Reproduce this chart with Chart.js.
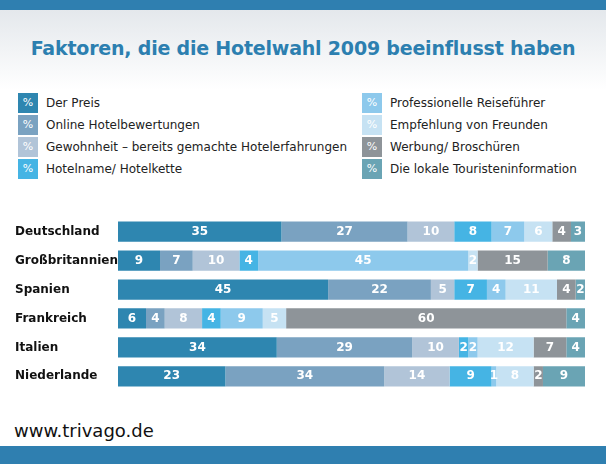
<!DOCTYPE html>
<html><head><meta charset="utf-8">
<script src="https://cdn.jsdelivr.net/npm/chart.js@4"></script>
<style>
body{margin:0;width:606px;height:464px;position:relative;overflow:hidden;background:#fff;font-family:"DejaVu Sans",Verdana,sans-serif}
#top{position:absolute;left:0;top:0;width:606px;height:10px;background:#2f7fb0}
#bg{position:absolute;left:0;top:10px;width:606px;height:80px;background:linear-gradient(#e4e8ec,#fff)}
h1{position:absolute;left:0;width:606px;top:37px;margin:0;text-align:center;font-size:19px;color:#2c7fb0;font-weight:bold;letter-spacing:-0.2px}
.leg{position:absolute;font-size:12px;color:#222}
.leg div{height:22px;display:flex;align-items:center}
.leg span{display:inline-block;width:20px;height:20px;color:#fff;font-size:11px;text-align:center;line-height:20px;margin-right:8px}
#foot{position:absolute;left:14px;top:420px;font-size:18px;color:#111}
#bot{position:absolute;left:0;top:446px;width:606px;height:18px;background:#2f7fb0}
#wrap{position:absolute;left:0;top:206px;width:600px;height:196px}
</style></head><body>
<div id="top"></div><div id="bg"></div>
<h1>Faktoren, die die Hotelwahl 2009 beeinflusst haben</h1>
<div class="leg" id="l1" style="left:18px;top:92px"></div>
<div class="leg" id="l2" style="left:362px;top:92px"></div>
<div id="wrap"><canvas id="c"></canvas></div>
<div id="foot">www.trivago.de</div>
<div id="bot"></div>
<script>
let countries = ["Deutschland", "Großbritannien", "Spanien", "Frankreich", "Italien", "Niederlande"];
let factors = ["Der Preis", "Online Hotelbewertungen", "Gewohnheit – bereits gemachte Hotelerfahrungen", "Hotelname/ Hotelkette",
  "Professionelle Reiseführer", "Empfehlung von Freunden", "Werbung/ Broschüren", "Die lokale Touristeninformation"];
let preis = [35, 9, 45, 6, 34, 23];
let online = [27, 7, 22, 4, 29, 34];
let gewohnheit = [10, 10, 5, 8, 10, 14];
let hotelname = [8, 4, 7, 4, 2, 9];
let reisefuehrer = [7, 45, 4, 9, 2, 1];
let freunde = [6, 2, 11, 5, 12, 8];
let werbung = [4, 15, 4, 60, 7, 2];
let touristinfo = [3, 8, 2, 4, 4, 9];
let colors = ["#2e86b0", "#7aa2c1", "#b1c4d8", "#45b4e4", "#8dc9ec", "#c6e2f3", "#8e9499", "#6aa4b4"];

let series = [preis, online, gewohnheit, hotelname, reisefuehrer, freunde, werbung, touristinfo];

// LEGEND
factors.forEach((f, i) => {
  let d = document.createElement("div");
  d.innerHTML = `<span style="background:${colors[i]}">%</span>${f}`;
  document.getElementById(i < 4 ? "l1" : "l2").appendChild(d);
});

// VALUE LABELS
let labelsPlugin = {
  id: "vals",
  afterDatasetsDraw(chart) {
    let ctx = chart.ctx;
    ctx.save();
    ctx.font = "bold 12px 'DejaVu Sans'";
    ctx.fillStyle = "#fff";
    ctx.textAlign = "center";
    ctx.textBaseline = "middle";
    chart.data.datasets.forEach((ds, i) => {
      chart.getDatasetMeta(i).data.forEach((bar, j) => {
        ctx.fillText(ds.data[j], (bar.x + bar.base) / 2, bar.y);
      });
    });
    ctx.restore();
  }
};

new Chart(document.getElementById("c"), {
  type: "bar",
  data: {
    labels: countries,
    datasets: series.map((s, i) => ({ label: factors[i], data: s, backgroundColor: colors[i], barPercentage: 0.7, categoryPercentage: 1 }))
  },
  options: {
    indexAxis: "y",
    responsive: true,
    maintainAspectRatio: false,
    animation: false,
    layout: { padding: { left: 15, right: 15 } },
    plugins: { legend: { display: false }, tooltip: { enabled: false } },
    scales: {
      x: { stacked: true, min: 0, max: 100, display: false },
      y: {
        stacked: true,
        grid: { display: false },
        border: { display: false },
        ticks: { color: "#111", font: { size: 12, weight: "bold", family: "DejaVu Sans" }, crossAlign: "far", padding: 4 },
        afterFit(a) { a.width = 103; }
      }
    }
  },
  plugins: [labelsPlugin]
});
</script>
</body></html>
